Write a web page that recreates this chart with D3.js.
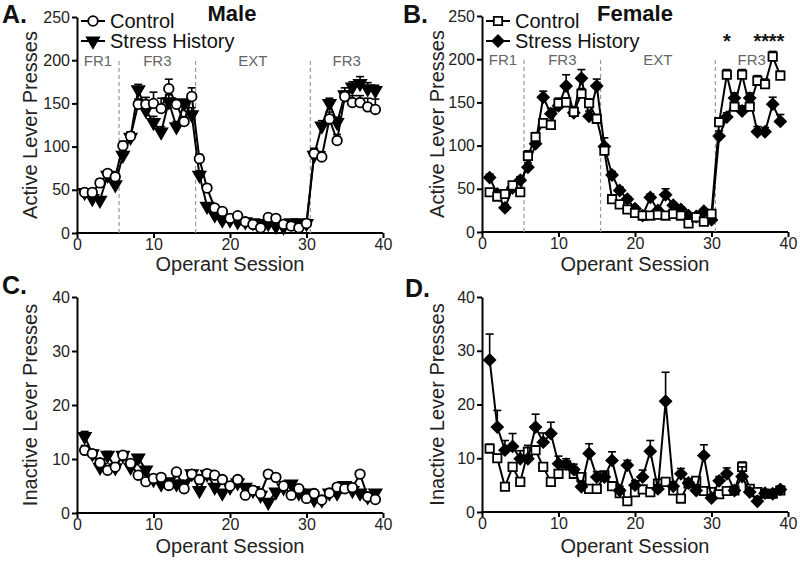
<!DOCTYPE html>
<html><head><meta charset="utf-8">
<script src="https://cdn.jsdelivr.net/npm/d3@7"></script>
<style>
body{margin:0;background:#fff;}
svg{display:block;font-family:"Liberation Sans",Arial,sans-serif;}
</style></head>
<body><svg id="c" width="800" height="561"></svg>
<script>
// ---- data ----
const sessions = d3.range(1, 40);
const xTicks = [0, 10, 20, 30, 40];
const activeTicks = [0, 50, 100, 150, 200, 250];
const inactiveTicks = [0, 10, 20, 30, 40];
const phaseBounds = [5.5, 15.5, 30.5];
const phaseLabels = ["FR1", "FR3", "EXT", "FR3"];
const phaseCenters = [2.75, 10.5, 23, 35.25];

const maleActiveControl = [47,47,58,69,65,101,112,149,149,150,144,167,149,129,158,86,52,29,25,17,20,13,10,6,18,17,10,8,6,11,92,88,132,107,158,151,151,146,143];
const maleActiveControlSem = [3,3,4,3,4,5,5,6,8,13,12,11,6,5,10,5,4,3,3,2,2,2,2,2,2,2,2,2,2,2,6,6,8,7,6,8,8,10,12];
const maleActiveStress = [47,40,38,67,56,90,111,166,142,128,117,152,123,150,137,67,31,21,15,15,13,13,12,11,11,8,7,12,12,11,90,124,150,128,160,169,173,167,165];
const maleActiveStressSem = [3,3,3,4,4,5,6,6,8,7,6,8,6,5,8,5,3,2,2,2,2,2,2,2,2,2,2,2,2,2,6,6,6,6,8,6,8,7,6];

const femaleActiveControl = [46,41,44,54,46,88,110,126,124,149,150,139,160,149,131,94,38,32,26,22,19,19,20,19,21,19,10,17,12,21,127,182,145,182,145,175,171,203,181];
const femaleActiveControlSem = [4,4,4,4,4,6,5,5,5,6,5,6,6,5,5,6,3,3,2,2,2,2,2,2,2,2,2,2,2,2,5,6,6,6,6,6,6,6,5];
const femaleActiveStress = [63,44,28,51,60,75,102,156,137,146,169,138,178,134,169,99,66,48,38,27,19,40,25,43,31,26,19,18,24,14,111,133,155,140,155,116,116,148,128];
const femaleActiveStressSem = [4,4,4,4,4,5,6,7,6,7,13,6,10,6,8,10,4,4,3,3,3,4,3,7,3,3,2,2,2,2,6,5,6,6,6,6,5,8,8];
const femaleStars = [32, 36, 37, 38, 39];

const maleInactiveControl = [11.6,11.0,9.3,7.9,8.5,10.7,9.2,7.0,5.8,6.4,6.6,5.1,7.6,4.5,7.2,6.2,7.3,7.0,6.2,5.0,6.2,3.3,4.2,3.6,7.2,6.6,5.0,3.3,4.5,2.7,3.6,2.4,3.7,4.8,4.5,4.7,7.2,3.0,2.5];
const maleInactiveControlSem = [0.9,0.7,0.7,0.7,0.6,0.6,0.6,0.6,0.5,0.5,0.5,0.5,0.5,0.4,0.5,0.4,0.5,0.4,0.4,0.4,0.4,0.4,0.4,0.3,0.5,0.4,0.4,0.3,0.3,0.3,0.3,0.3,0.3,0.4,0.3,0.3,0.5,0.3,0.3];
const maleInactiveStress = [14.2,11.0,8.5,10.7,8.4,10.7,8.5,10.2,8.0,6.2,5.4,5.8,5.4,5.4,7.3,4.2,7.2,4.8,3.7,4.8,5.6,4.8,4.2,3.3,2.0,3.9,4.7,5.4,3.7,3.7,2.5,2.4,3.7,3.7,5.1,4.2,3.7,3.0,3.7];
const maleInactiveStressSem = [0.9,0.7,0.7,0.7,0.6,0.6,0.6,0.6,0.5,0.5,0.5,0.5,0.5,0.4,0.5,0.4,0.5,0.4,0.4,0.4,0.4,0.4,0.4,0.3,0.3,0.4,0.4,0.3,0.3,0.3,0.3,0.3,0.3,0.4,0.3,0.3,0.3,0.3,0.3];

const femaleInactiveControl = [11.8,10.0,4.7,8.4,5.6,11.2,11.5,8.4,5.6,7.1,8.7,7.1,6.5,4.3,4.3,6.8,4.8,3.5,2.0,3.7,4.2,3.7,5.3,5.6,4.0,2.5,5.3,5.8,3.9,3.7,3.3,3.9,4.0,8.4,4.3,3.7,3.4,3.4,4.0];
const femaleInactiveControlSem = [0.8,0.7,0.5,0.7,0.5,0.8,0.8,0.7,0.5,0.6,0.6,0.6,0.5,0.4,0.4,0.5,0.4,0.4,0.3,0.4,0.4,0.4,0.5,0.5,0.4,0.3,0.5,0.5,0.4,0.4,0.3,0.4,0.4,0.9,0.4,0.3,0.3,0.3,0.4];
const femaleInactiveStress = [28.3,15.8,11.5,12.2,9.9,9.9,15.8,13.0,14.6,9.0,8.9,7.9,4.7,10.9,6.5,6.5,9.6,4.0,8.7,5.0,6.5,11.3,4.3,20.6,4.8,7.1,5.4,4.0,10.5,2.6,5.8,7.1,4.0,6.6,3.7,2.0,3.5,3.4,4.2];
const femaleInactiveStressSem = [4.8,3.1,1.8,2.4,1.5,2.5,2.4,1.7,2.1,1.4,1.0,1.0,0.8,1.8,1.0,1.0,1.6,0.8,0.9,0.8,1.3,2.0,0.8,5.4,0.8,1.0,0.8,0.8,2.0,0.6,0.8,1.1,0.6,1.8,0.6,0.5,0.5,0.5,0.6];

// ---- drawing ----
const svg = d3.select("#c");
const FONT = "'Liberation Sans', Arial, sans-serif";

function marker(g, type, x, y) {
  let path, rot = 0, fill = "#000";
  if (type === "circle") { path = d3.symbol(d3.symbolCircle, 72)(); fill = "#fff"; }
  else if (type === "square") { path = d3.symbol(d3.symbolSquare, 70)(); fill = "#fff"; }
  else if (type === "tri") { path = d3.symbol(d3.symbolTriangle, 64)(); rot = 180; }
  else { path = d3.symbol(d3.symbolSquare, 64)(); rot = 45; }
  g.append("path").attr("d", path)
    .attr("transform", `translate(${x},${y}) rotate(${rot})`)
    .attr("fill", fill).attr("stroke", "#000").attr("stroke-width", 1.8);
}

function panel(opt) {
  const x = d3.scaleLinear().domain([0, 40]).range([opt.x0, opt.x1]);
  const y = d3.scaleLinear().domain([0, opt.ymax]).range([opt.yb, opt.yt]);
  const g = svg.append("g");

  // axes
  const ax = g.append("g").attr("transform", `translate(0,${opt.yb})`)
    .call(d3.axisBottom(x).tickValues(xTicks).tickSize(5).tickSizeOuter(0).tickPadding(1));
  const ay = g.append("g").attr("transform", `translate(${opt.x0},0)`)
    .call(d3.axisLeft(y).tickValues(opt.ticks).tickSize(5).tickSizeOuter(0).tickPadding(2));
  [ax, ay].forEach(a => {
    a.select(".domain").attr("stroke", "#000").attr("stroke-width", 2);
    a.selectAll(".tick line").attr("stroke", "#000").attr("stroke-width", 2);
    a.selectAll(".tick text").attr("font-family", FONT).attr("font-size", 16).attr("fill", "#222");
  });
  ax.select(".domain").attr("d", `M${opt.x0 - 1},0H${opt.x1}`);

  // axis titles
  g.append("text").attr("x", (opt.x0 + opt.x1) / 2).attr("y", opt.xlabY)
    .attr("text-anchor", "middle").attr("font-size", 20).attr("fill", "#222").text("Operant Session");
  g.append("text").attr("transform", `translate(${opt.ylabX},${(opt.yb + opt.yt) / 2}) rotate(-90)`)
    .attr("text-anchor", "middle").attr("font-size", 20).attr("fill", "#222").text(opt.ylabel);

  // panel letter
  g.append("text").attr("x", opt.letterX).attr("y", opt.letterY)
    .attr("font-size", 25).attr("font-weight", "bold").attr("fill", "#111").text(opt.letter);

  if (opt.phases) {
    phaseBounds.forEach(b => {
      g.append("line").attr("x1", x(b)).attr("x2", x(b)).attr("y1", y(0)).attr("y2", y(200))
        .attr("stroke", "#999").attr("stroke-width", 1.2).attr("stroke-dasharray", "4,3");
    });
    phaseLabels.forEach((t, i) => {
      g.append("text").attr("x", x(phaseCenters[i])).attr("y", y(193))
        .attr("text-anchor", "middle").attr("font-size", 15).attr("fill", "#666").text(t);
    });
  }

  // series
  opt.series.forEach(s => {
    const sg = g.append("g");
    s.values.forEach((v, i) => {
      const cx = x(sessions[i]), top = y(v + s.sem[i]);
      sg.append("line").attr("x1", cx).attr("x2", cx).attr("y1", y(v)).attr("y2", top)
        .attr("stroke", "#000").attr("stroke-width", 1.6);
      sg.append("line").attr("x1", cx - 4).attr("x2", cx + 4).attr("y1", top).attr("y2", top)
        .attr("stroke", "#000").attr("stroke-width", 1.6);
    });
    sg.append("path").datum(s.values)
      .attr("d", d3.line().x((d, i) => x(sessions[i])).y(d => y(d)))
      .attr("fill", "none").attr("stroke", "#000").attr("stroke-width", 2);
    s.values.forEach((v, i) => marker(sg, s.type, x(sessions[i]), y(v)));
  });

  // legend
  if (opt.legend) {
    const ordered = opt.series.slice().sort((a, b) => (a.name === "Control" ? -1 : 1));
    ordered.forEach((s, i) => {
      const ly = opt.legY + i * 20;
      const lg = g.append("g");
      lg.append("line").attr("x1", opt.legX).attr("x2", opt.legX + 24).attr("y1", ly).attr("y2", ly)
        .attr("stroke", "#000").attr("stroke-width", 2);
      marker(lg, s.type, opt.legX + 12, ly);
      lg.append("text").attr("x", opt.legX + 29).attr("y", ly + 7)
        .attr("font-size", 20).attr("fill", "#111").text(s.name);
    });
    g.append("text").attr("x", opt.titleX).attr("y", 21).attr("text-anchor", "middle")
      .attr("font-size", 22).attr("font-weight", "bold").attr("fill", "#111").text(opt.title);
  }

  if (opt.stars) {
    opt.stars.forEach(s => {
      g.append("text").attr("x", x(s)).attr("y", 48).attr("text-anchor", "middle")
        .attr("font-size", 20).attr("font-weight", "bold").attr("fill", "#111").text("*");
    });
  }
}

panel({x0: 77, x1: 383, yb: 233, yt: 17, ymax: 250, ticks: activeTicks, letter: "A.", letterX: 2, letterY: 23,
  ylabel: "Active Lever Presses", ylabX: 37, xlabY: 271, phases: true, legend: true, legX: 81, legY: 21,
  title: "Male", titleX: 232,
  series: [
    {name: "Stress History", type: "tri", values: maleActiveStress, sem: maleActiveStressSem},
    {name: "Control", type: "circle", values: maleActiveControl, sem: maleActiveControlSem}
  ]});

panel({x0: 482, x1: 788, yb: 232, yt: 16, ymax: 250, ticks: activeTicks, letter: "B.", letterX: 403, letterY: 23,
  ylabel: "Active Lever Presses", ylabX: 444, xlabY: 271, phases: true, legend: true, legX: 486, legY: 21,
  title: "Female", titleX: 635, stars: femaleStars,
  series: [
    {name: "Stress History", type: "diamond", values: femaleActiveStress, sem: femaleActiveStressSem},
    {name: "Control", type: "square", values: femaleActiveControl, sem: femaleActiveControlSem}
  ]});

panel({x0: 77, x1: 383, yb: 513, yt: 297, ymax: 40, ticks: inactiveTicks, letter: "C.", letterX: 2, letterY: 294,
  ylabel: "Inactive Lever Presses", ylabX: 37, xlabY: 553,
  series: [
    {name: "Stress History", type: "tri", values: maleInactiveStress, sem: maleInactiveStressSem},
    {name: "Control", type: "circle", values: maleInactiveControl, sem: maleInactiveControlSem}
  ]});

panel({x0: 482, x1: 788, yb: 512, yt: 297, ymax: 40, ticks: inactiveTicks, letter: "D.", letterX: 405, letterY: 297,
  ylabel: "Inactive Lever Presses", ylabX: 444, xlabY: 553,
  series: [
    {name: "Control", type: "square", values: femaleInactiveControl, sem: femaleInactiveControlSem},
    {name: "Stress History", type: "diamond", values: femaleInactiveStress, sem: femaleInactiveStressSem}
  ]});
</script></body></html>
